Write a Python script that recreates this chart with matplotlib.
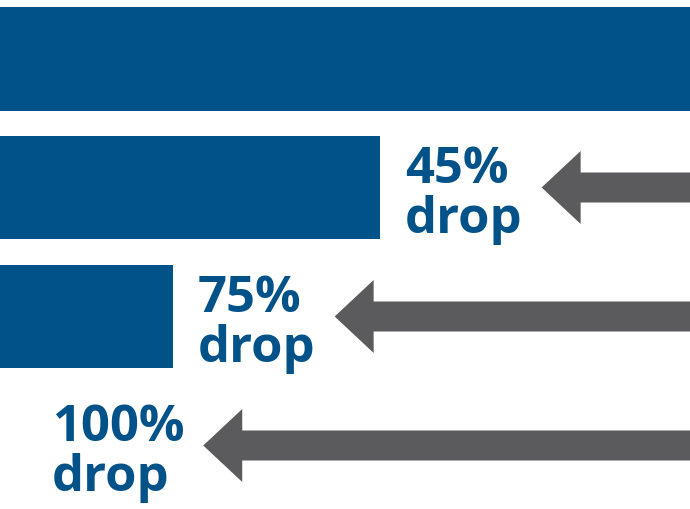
import matplotlib.pyplot as plt
from matplotlib.patches import FancyArrow

# remaining share of each bar (first bar = 100)
values = [100, 55, 25, 0]
pcts = ["", "45%", "75%", "100%"]
word = "drop"

blue = "#02528a"
grey = "#5b5b5d"
step = 129.0  # px between rows

fig = plt.figure(figsize=(6.9, 5.1), dpi=100)
ax = fig.add_axes([0, 0, 1, 1])
ax.set_xlim(0, 100)
ax.set_ylim((510 - 59.5) / step, -59.5 / step)
ax.axis("off")

pos = list(range(len(values)))
ax.barh(pos, values, height=104 / step, color=blue)

fig.canvas.draw()
renderer = fig.canvas.get_renderer()
inv = ax.transData.inverted()

font = dict(color=blue, fontsize=36.5, fontweight="bold", family="Open Sans",
            ha="left", va="baseline")

for i, (v, p) in enumerate(zip(values, pcts)):
    if not p:
        continue
    tx = v + 3.7 if v > 0 else 7.5
    t1 = ax.text(tx, i - 5 / step, p, **font)
    t2 = ax.text(tx, i + 45 / step, word, **font)
    right = max(t1.get_window_extent(renderer).x1, t2.get_window_extent(renderer).x1)
    tip = inv.transform((right + 19, 0))[0]
    ax.add_patch(FancyArrow(100, i, tip - 100, 0, width=30 / step,
                            head_width=73 / step, head_length=5.65,
                            length_includes_head=True, color=grey, lw=0))

fig.savefig("out.png", dpi=100)
